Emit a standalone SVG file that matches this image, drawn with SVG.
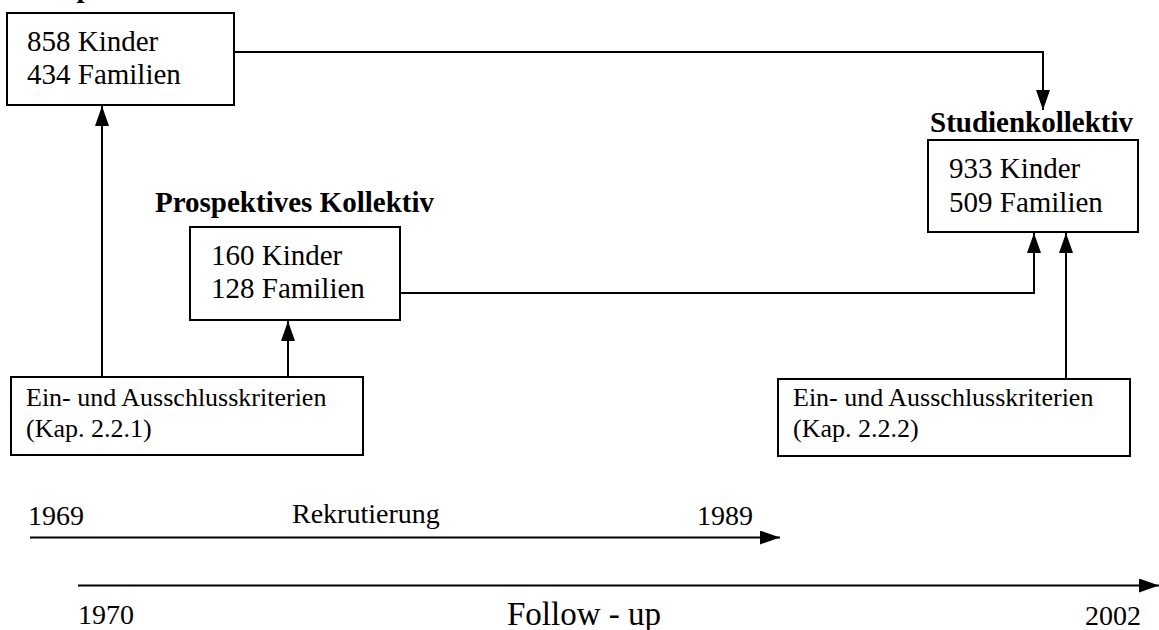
<svg xmlns="http://www.w3.org/2000/svg" width="1159" height="630" viewBox="0 0 1159 630">
<defs>
<marker id="ah" markerUnits="userSpaceOnUse" markerWidth="20" markerHeight="14" refX="20" refY="7" orient="auto">
<path d="M0,0 L20,7 L0,14 Z" fill="#000"/>
</marker>
<style>
.box{fill:#fff;stroke:#000;stroke-width:2}
.t{font-family:"Liberation Serif","Times New Roman",serif;fill:#000}
.n{font-size:29px}
.b{font-size:29px;font-weight:bold}
.c{font-size:26px}
.y{font-size:28px}
.f{font-size:33px}
.ln{fill:none;stroke:#000;stroke-width:2}
</style>
</defs>
<rect width="1159" height="630" fill="#fff"/>
<g id="connectors">
<path class="ln" d="M234,52 H1043 V110" marker-end="url(#ah)"/>
<path class="ln" d="M102,377 V106" marker-end="url(#ah)"/>
<path class="ln" d="M288,377 V321" marker-end="url(#ah)"/>
<path class="ln" d="M400,293 H1034 V233" marker-end="url(#ah)"/>
<path class="ln" d="M1066,379 V233" marker-end="url(#ah)"/>
</g>
<g id="retro">
<text class="t b" x="-5" y="-3">Retrospektives Kollektiv</text>
<rect class="box" x="7" y="13" width="227" height="92"/>
<text class="t n" x="27" y="51">858 Kinder</text>
<text class="t n" x="27" y="84">434 Familien</text>
</g>
<g id="prospektiv">
<text class="t b" x="155" y="212">Prospektives Kollektiv</text>
<rect class="box" x="190" y="227" width="210" height="93"/>
<text class="t n" x="211" y="265">160 Kinder</text>
<text class="t n" x="211" y="298">128 Familien</text>
</g>
<g id="studien">
<text class="t b" x="930" y="132">Studienkollektiv</text>
<rect class="box" x="928" y="140" width="210" height="92"/>
<text class="t n" x="949" y="178">933 Kinder</text>
<text class="t n" x="949" y="212">509 Familien</text>
</g>
<g id="kriterien1">
<rect class="box" x="11" y="377" width="352" height="78"/>
<text class="t c" x="26" y="406">Ein- und Ausschlusskriterien</text>
<text class="t c" x="26" y="437">(Kap. 2.2.1)</text>
</g>
<g id="kriterien2">
<rect class="box" x="778" y="379" width="352" height="77"/>
<text class="t c" x="793" y="406">Ein- und Ausschlusskriterien</text>
<text class="t c" x="793" y="437">(Kap. 2.2.2)</text>
</g>
<g id="rekrutierung">
<path class="ln" d="M30,537.5 H780" marker-end="url(#ah)"/>
<text class="t y" x="28" y="525">1969</text>
<text class="t y" x="292" y="523">Rekrutierung</text>
<text class="t y" x="697" y="525">1989</text>
</g>
<g id="followup">
<path class="ln" d="M78,585.5 H1159" marker-end="url(#ah)"/>
<text class="t y" x="78" y="624">1970</text>
<text class="t f" x="507" y="625">Follow - up</text>
<text class="t y" x="1085" y="625">2002</text>
</g>
</svg>
